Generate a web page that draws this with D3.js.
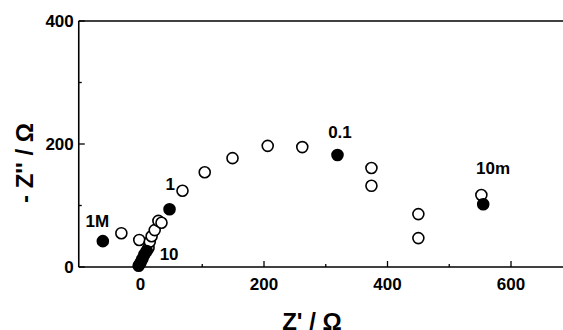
<!DOCTYPE html>
<html>
<head>
<meta charset="utf-8">
<script src="https://cdn.jsdelivr.net/npm/d3@7"></script>
<style>
  body { margin: 0; background: #fff; }
  svg text { font-family: "Liberation Sans", Arial, sans-serif; font-weight: bold; fill: #000; }
</style>
</head>
<body>
<script>
// Nyquist plot data (Z' and -Z'' in ohm)
var openZr = [-31, -2, 13, 15, 18, 23, 29, 34, 68, 104, 149, 206, 262, 374, 374, 450, 450, 552];
var openZi = [55, 44, 31, 41, 50, 60, 75, 72, 124, 154, 177, 197, 195, 161, 132, 86, 47, 117];

var filledZr = [-61, -3, 0, 3, 6, 10, 47, 319, 555];
var filledZi = [42, 2, 7, 13, 20, 26, 94, 182, 102];

// frequency labels
var freqLabels = ["1M", "10", "1", "0.1", "10m"];
var freqLabelZr = [-70, 31, 48, 323, 571];
var freqLabelZi = [65, 11, 125, 210, 151];

var xMajorTicks = [0, 200, 400, 600];
var xMinorTicks = [100, 300, 500, 700];
var yMajorTicks = [0, 200, 400];
var yMinorTicks = [100, 300];

var width = 563, height = 330;
var svg = d3.select("body").append("svg")
  .attr("width", width)
  .attr("height", height);

var x = d3.scaleLinear().domain([-100, 800]).range([78.75, 634.5]);
var y = d3.scaleLinear().domain([0, 400]).range([267, 21]);

var open = openZr.map(function(d, i) { return { zr: d, zi: openZi[i] }; });
var filled = filledZr.map(function(d, i) { return { zr: d, zi: filledZi[i] }; });

// frame
var frame = svg.append("g").attr("stroke", "#000").attr("stroke-width", 1.6).attr("fill", "none");
frame.append("line").attr("x1", x(-100)).attr("x2", x(800)).attr("y1", y(400)).attr("y2", y(400));
frame.append("line").attr("x1", x(-100)).attr("x2", x(800)).attr("y1", y(0)).attr("y2", y(0));
frame.append("line").attr("x1", x(-100)).attr("x2", x(-100)).attr("y1", y(0)).attr("y2", y(400));

// x axis ticks (inward)
var xAxis = svg.append("g").attr("transform", "translate(0," + y(0) + ")");
xAxis.selectAll(".major").data(xMajorTicks).enter().append("line")
  .attr("x1", function(d) { return x(d); }).attr("x2", function(d) { return x(d); })
  .attr("y1", 0).attr("y2", -6).attr("stroke", "#000").attr("stroke-width", 1.3);
xAxis.selectAll(".minor").data(xMinorTicks).enter().append("line")
  .attr("x1", function(d) { return x(d); }).attr("x2", function(d) { return x(d); })
  .attr("y1", 0).attr("y2", -3).attr("stroke", "#000").attr("stroke-width", 1.3);
xAxis.selectAll("text").data(xMajorTicks).enter().append("text")
  .attr("x", function(d) { return x(d); })
  .attr("y", 23)
  .attr("text-anchor", "middle")
  .style("font-size", "17px")
  .text(function(d) { return d; });

// y axis ticks (inward)
var yAxis = svg.append("g").attr("transform", "translate(" + x(-100) + ",0)");
yAxis.selectAll(".major").data(yMajorTicks).enter().append("line")
  .attr("y1", function(d) { return y(d); }).attr("y2", function(d) { return y(d); })
  .attr("x1", 0).attr("x2", 6).attr("stroke", "#000").attr("stroke-width", 1.3);
yAxis.selectAll(".minor").data(yMinorTicks).enter().append("line")
  .attr("y1", function(d) { return y(d); }).attr("y2", function(d) { return y(d); })
  .attr("x1", 0).attr("x2", 3).attr("stroke", "#000").attr("stroke-width", 1.3);
yAxis.selectAll("text").data(yMajorTicks).enter().append("text")
  .attr("x", -5)
  .attr("y", function(d) { return y(d) + 6; })
  .attr("text-anchor", "end")
  .style("font-size", "17px")
  .text(function(d) { return d; });

// axis titles
svg.append("text")
  .attr("x", 312).attr("y", 330)
  .attr("text-anchor", "middle")
  .style("font-size", "24px")
  .text("Z' / Ω");
svg.append("text")
  .attr("transform", "translate(33,163) rotate(-90)")
  .attr("text-anchor", "middle")
  .style("font-size", "24px")
  .text("- Z'' / Ω");

// points
var r = 5.5;
svg.selectAll(".open").data(open).enter().append("circle")
  .attr("cx", function(d) { return x(d.zr); })
  .attr("cy", function(d) { return y(d.zi); })
  .attr("r", r)
  .attr("fill", "#fff").attr("stroke", "#000").attr("stroke-width", 1.6);
svg.selectAll(".filled").data(filled).enter().append("circle")
  .attr("cx", function(d) { return x(d.zr); })
  .attr("cy", function(d) { return y(d.zi); })
  .attr("r", r)
  .attr("fill", "#000").attr("stroke", "#000").attr("stroke-width", 1.6);

// frequency labels
svg.selectAll(".flabel").data(freqLabels).enter().append("text")
  .attr("x", function(d, i) { return x(freqLabelZr[i]); })
  .attr("y", function(d, i) { return y(freqLabelZi[i]); })
  .attr("text-anchor", function(d, i) { return i === 1 ? "start" : "middle"; })
  .style("font-size", "17px")
  .text(function(d) { return d; });
</script>
</body>
</html>
